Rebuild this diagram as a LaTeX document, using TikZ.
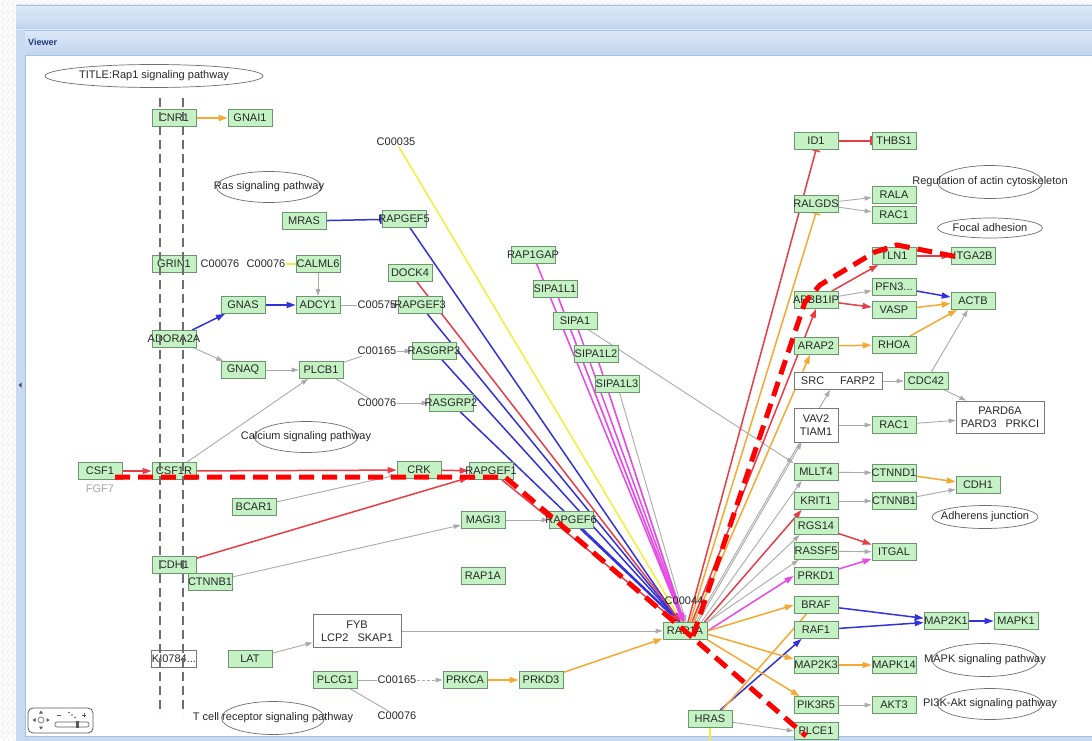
\documentclass[tikz,border=0pt]{standalone}
\usepackage{fontspec}
\setmainfont{Liberation Sans}
\usetikzlibrary{arrows.meta,shapes.geometric,calc,decorations.pathmorphing}
\definecolor{gfill}{RGB}{196,242,196}
\definecolor{gborder}{RGB}{110,150,110}
\definecolor{cor}{RGB}{245,168,50}
\definecolor{cred}{RGB}{232,60,70}
\definecolor{cblue}{RGB}{50,50,220}
\definecolor{cmag}{RGB}{235,70,235}
\definecolor{cyel}{RGB}{240,240,60}
\definecolor{cgray}{RGB}{170,170,170}
\definecolor{txt}{RGB}{40,40,40}
\definecolor{grpb}{RGB}{120,120,120}
\definecolor{pwb}{RGB}{110,110,110}
\definecolor{vd}{RGB}{110,110,110}
\definecolor{hA}{RGB}{223,234,248}
\definecolor{hB}{RGB}{201,219,242}
\definecolor{hC}{RGB}{210,225,245}
\definecolor{hD}{RGB}{188,209,238}
\definecolor{hE}{RGB}{220,232,248}
\definecolor{hF}{RGB}{194,213,239}
\definecolor{strip}{RGB}{200,218,241}
\definecolor{sline}{RGB}{169,192,224}
\definecolor{vtxt}{RGB}{30,60,120}
\newcommand\fs{\fontsize{11}{13}\selectfont}
\newcommand\gx[1]{\makebox[0pt]{#1}}
\pgfdeclarelayer{back}
\pgfdeclarelayer{edges}
\pgfdeclarelayer{front}
\pgfsetlayers{back,edges,main,front}
\tikzset{
 gene/.style={draw=gborder, fill=gfill, line width=0.7pt, minimum width=44pt, minimum height=17pt, inner sep=0pt, font=\fs, text=txt},
 grp/.style={draw=grpb, fill=white, line width=0.7pt, inner sep=2pt, font=\fs, text=txt, align=center},
 cpd/.style={inner sep=1pt, font=\fs, text=txt},
 pw/.style={ellipse, draw=pwb, line width=0.7pt, inner sep=0pt, font=\fs, text=txt},
 cw/.style={line width=1.5pt},
 tipc/.style={-{Triangle[length=9pt,width=6pt]}},
 tipg/.style={-{Triangle[length=7pt,width=4.5pt]}},
 tipb/.style={-{Bar[width=9pt]}},
 oarr/.style={draw=cor, cw, tipc},
 rarr/.style={draw=cred, cw, tipc},
 barr/.style={draw=cblue, cw, tipc},
 marr/.style={draw=cmag, cw, tipc},
 garr/.style={draw=cgray, line width=0.9pt, tipg},
 gln/.style={draw=cgray, line width=0.9pt},
 yln/.style={draw=cyel, cw},
 vdash/.style={draw=vd, line width=2.6pt, dash pattern=on 9pt off 5pt},
 hl/.style={draw=red, line width=5pt, dash pattern=on 15pt off 8pt},
}
\begin{document}
\begin{tikzpicture}[x=1pt,y=-1pt]
\useasboundingbox (0,0) rectangle (1092,741);
% ---------- window chrome ----------
\begin{pgfonlayer}{back}
\fill[white] (0,0) rectangle (1092,741);
\foreach \xx in {3,8,13}{
  \draw[gray!18, decorate, decoration={zigzag,segment length=6pt,amplitude=2pt}] (\xx,0) -- (\xx,741);}
\draw[gray!18, decorate, decoration={zigzag,segment length=6pt,amplitude=1.5pt}] (16,2.5) -- (1092,2.5);
\shade[top color=hA, bottom color=hB] (16,5) rectangle (1092,17);
\shade[top color=hC, bottom color=hD] (16,17) rectangle (1092,30);
\shade[top color=hE, bottom color=hF] (16,30) rectangle (1092,55);
\draw[sline] (16,5) -- (1092,5);
\draw[sline] (16,30) -- (1092,30);
\draw[sline] (16,55) -- (1092,55);
\fill[strip] (16,30) rectangle (25,741);
\draw[sline] (25,55) -- (25,741);
\fill[strip] (16,736) rectangle (1092,741);
\draw[sline] (25,736) -- (1092,736);
\fill[gray!60!black] (18.5,385) -- (21.5,382.5) -- (21.5,387.5) -- cycle;
\node[font=\fontsize{9}{11}\selectfont\bfseries, text=vtxt, anchor=west, inner sep=0pt] (viewer) at (28,42) {Viewer};
% navigation widget
\draw[gray!70!black, rounded corners=5pt, line width=0.8pt, fill=white] (28,708) rectangle (93,733);
\draw[gray!70!black, line width=0.6pt] (41,720) circle (3);
\fill[gray!70!black] (41,710.5) -- (39,713.5) -- (43,713.5) -- cycle;
\fill[gray!70!black] (41,729.5) -- (39,726.5) -- (43,726.5) -- cycle;
\fill[gray!70!black] (32.5,720) -- (35.5,718) -- (35.5,722) -- cycle;
\fill[gray!70!black] (49.5,720) -- (46.5,718) -- (46.5,722) -- cycle;
\draw[gray!70!black, line width=0.6pt] (57,715) -- (61,715);
\fill[gray!70!black] (69,712.5) circle (0.9) (72,715) circle (0.9) (75,717.5) circle (0.9);
\draw[gray!70!black, line width=0.6pt] (82,715) -- (86,715) (84,713) -- (84,717);
\draw[gray!70!black, line width=0.6pt, rounded corners=2pt] (55,722) rectangle (89,727);
\fill[gray!70!black] (76,721) rectangle (78.5,728);
\end{pgfonlayer}

% ---------- pathway ellipses ----------
\node[pw, minimum width=218pt, minimum height=23pt] (title) at (154,76) {\gx{TITLE:Rap1 signaling pathway}};
\node[pw, minimum width=105pt, minimum height=31pt] (ras) at (269,187) {\gx{Ras signaling pathway}};
\node[pw, minimum width=103pt, minimum height=31pt] (calc) at (306,437) {\gx{Calcium signaling pathway}};
\node[pw, minimum width=103pt, minimum height=33pt] (tcr) at (273,718) {\gx{T cell receptor signaling pathway}};
\node[pw, minimum width=105pt, minimum height=33pt] (actin) at (990,182) {\gx{Regulation of actin cytoskeleton}};
\node[pw, minimum width=105pt, minimum height=20pt] (focal) at (990,228) {\gx{Focal adhesion}};
\node[pw, minimum width=106pt, minimum height=23pt] (adh) at (985,517) {\gx{Adherens junction}};
\node[pw, minimum width=106pt, minimum height=33pt] (mapkp) at (985,660) {\gx{MAPK signaling pathway}};
\node[pw, minimum width=105pt, minimum height=31pt] (pi3k) at (990,704) {\gx{PI3K-Akt signaling pathway}};

% ---------- compounds ----------
\node[cpd] (c00035) at (396,142) {C00035};
\node[cpd] (c00076a) at (220,264) {C00076};
\node[cpd] (c00076b) at (266,264) {C00076};
\node[cpd] (c00575) at (377,305) {C00575};
\node[cpd] (c00165a) at (377,351) {C00165};
\node[cpd] (c00076c) at (377,403) {C00076};
\node[cpd] (c00165b) at (397,680) {C00165};
\node[cpd] (c00076d) at (397,716) {C00076};
\node[cpd] (c00044) at (684,601) {C00044};
\node[cpd, text=gray!70] (fgf7) at (100,489) {FGF7};

% ---------- genes left ----------
\node[gene] (cnr1) at (174,118) {\gx{CNR1}};
\node[gene] (gnai1) at (250,118) {\gx{GNAI1}};
\node[gene] (mras) at (304,221) {\gx{MRAS}};
\node[gene] (rapgef5) at (404,219) {\gx{RAPGEF5}};
\node[gene] (grin1) at (174,264) {\gx{GRIN1}};
\node[gene] (calml6) at (318,264) {\gx{CALML6}};
\node[gene] (gnas) at (243,305) {\gx{GNAS}};
\node[gene] (adcy1) at (318,305) {\gx{ADCY1}};
\node[gene] (rapgef3) at (420,305) {\gx{RAPGEF3}};
\node[gene] (dock4) at (410,273) {\gx{DOCK4}};
\node[gene] (adora2a) at (174,339) {\gx{ADORA2A}};
\node[gene] (gnaq) at (243,370) {\gx{GNAQ}};
\node[gene] (plcb1) at (321,370) {\gx{PLCB1}};
\node[gene] (rasgrp3) at (434,351) {\gx{RASGRP3}};
\node[gene] (rasgrp2) at (451,403) {\gx{RASGRP2}};
\node[gene] (rap1gap) at (533,255) {\gx{RAP1GAP}};
\node[gene] (sipa1l1) at (555,289) {\gx{SIPA1L1}};
\node[gene] (sipa1) at (575,321) {\gx{SIPA1}};
\node[gene] (sipa1l2) at (596,354) {\gx{SIPA1L2}};
\node[gene] (sipa1l3) at (617,384) {\gx{SIPA1L3}};
\node[gene] (csf1) at (100,471) {\gx{CSF1}};
\node[gene] (csf1r) at (174,471) {\gx{CSF1R}};
\node[gene] (crk) at (419,470) {\gx{CRK}};
\node[gene] (rapgef1) at (491,471) {\gx{RAPGEF1}};
\node[gene] (bcar1) at (254,507) {\gx{BCAR1}};
\node[gene] (cdh1a) at (174,565) {\gx{CDH1}};
\node[gene] (ctnnb1a) at (210,582) {\gx{CTNNB1}};
\node[gene] (magi3) at (483,520) {\gx{MAGI3}};
\node[gene] (rapgef6) at (571,520) {\gx{RAPGEF6}};
\node[gene] (rap1alone) at (483,576) {\gx{RAP1A}};
\node[gene] (lat) at (250,659) {\gx{LAT}};
\node[gene] (plcg1) at (335,680) {\gx{PLCG1}};
\node[gene] (prkca) at (465,680) {\gx{PRKCA}};
\node[gene] (prkd3) at (541,680) {\gx{PRKD3}};
\node[gene] (hub) at (685,631) {\gx{RAP1A}};
\node[gene] (hras) at (710,719) {\gx{HRAS}};
\node[grp, minimum width=88pt, minimum height=33pt] (fyb) at (357,631) {FYB\\LCP2\hspace{9pt}SKAP1};
\node[grp, minimum width=45pt, minimum height=17pt, inner sep=0pt] (ki0784) at (174,659) {\gx{KI0784...}};

% ---------- genes right ----------
\node[gene] (id1) at (816,141) {\gx{ID1}};
\node[gene] (thbs1) at (894,141) {\gx{THBS1}};
\node[gene] (ralgds) at (816,204) {\gx{RALGDS}};
\node[gene] (rala) at (894,195) {\gx{RALA}};
\node[gene] (rac1a) at (894,215) {\gx{RAC1}};
\node[gene] (tln1) at (894,256) {\gx{TLN1}};
\node[gene] (itga2b) at (973,256) {\gx{ITGA2B}};
\node[gene] (pfn3) at (894,287) {\gx{PFN3...}};
\node[gene] (actb) at (973,301) {\gx{ACTB}};
\node[gene] (apbb1ip) at (816,300) {\gx{APBB1IP}};
\node[gene] (vasp) at (894,310) {\gx{VASP}};
\node[gene] (arap2) at (816,346) {\gx{ARAP2}};
\node[gene] (rhoa) at (894,345) {\gx{RHOA}};
\node[grp, minimum width=88pt, minimum height=17pt, inner sep=0pt] (src) at (838,381) {SRC\hspace{16pt}FARP2};
\node[gene] (cdc42) at (926,381) {\gx{CDC42}};
\node[grp, minimum width=44pt, minimum height=34pt] (vav2) at (816,425) {VAV2\\TIAM1};
\node[gene] (rac1b) at (894,425) {\gx{RAC1}};
\node[grp, minimum width=88pt, minimum height=32pt] (pard) at (1000,417) {PARD6A\\PARD3\hspace{9pt}PRKCI};
\node[gene] (mllt4) at (816,472) {\gx{MLLT4}};
\node[gene] (ctnnd1) at (894,473) {\gx{CTNND1}};
\node[gene] (cdh1b) at (978,485) {\gx{CDH1}};
\node[gene] (krit1) at (816,501) {\gx{KRIT1}};
\node[gene] (ctnnb1b) at (894,501) {\gx{CTNNB1}};
\node[gene] (rgs14) at (816,526) {\gx{RGS14}};
\node[gene] (rassf5) at (816,551) {\gx{RASSF5}};
\node[gene] (itgal) at (894,552) {\gx{ITGAL}};
\node[gene] (prkd1) at (816,576) {\gx{PRKD1}};
\node[gene] (braf) at (816,605) {\gx{BRAF}};
\node[gene] (raf1) at (816,630) {\gx{RAF1}};
\node[gene] (map2k1) at (946,621) {\gx{MAP2K1}};
\node[gene] (mapk1) at (1016,621) {\gx{MAPK1}};
\node[gene] (map2k3) at (816,665) {\gx{MAP2K3}};
\node[gene] (mapk14) at (894,665) {\gx{MAPK14}};
\node[gene] (pik3r5) at (816,705) {\gx{PIK3R5}};
\node[gene] (akt3) at (894,705) {\gx{AKT3}};
\node[gene] (plce1) at (816,731) {\gx{PLCE1}};

\coordinate (yend) at (710,741);
\coordinate (d1t) at (160,98);
\coordinate (d1b) at (160,714);
\coordinate (d2t) at (183,98);
\coordinate (d2b) at (183,714);
\coordinate (h1) at (115,477);
\coordinate (h2) at (505,477);
\coordinate (h3) at (806,736);
\coordinate (h4) at (693,636);
\coordinate (h5) at (805,302);
\coordinate (h6) at (820,285);
\coordinate (h7) at (875,252);
\coordinate (h8) at (897,245);
\coordinate (h9) at (958,257);

% ---------- edges ----------
\begin{pgfonlayer}{edges}
% gray
\draw[garr] (calml6) -- (adcy1);
\draw[gln] (adcy1) -- (c00575);
\draw[garr] (c00575) -- (rapgef3);
\draw[garr] (adora2a) -- (gnaq);
\draw[garr] (gnaq) -- (plcb1);
\draw[gln] (plcb1) -- (c00165a);
\draw[garr] (c00165a) -- (rasgrp3);
\draw[gln] (plcb1) -- (c00076c);
\draw[garr] (c00076c) -- (rasgrp2);
\draw[garr] (csf1r) -- (plcb1);
\draw[garr] (bcar1) -- (crk);
\draw[garr] (ctnnb1a) -- (magi3);
\draw[garr] (magi3) -- (rapgef6);
\draw[garr] (lat) -- (fyb);
\draw[garr] (fyb) -- (hub);
\draw[gln] (plcg1) -- (c00165b);
\draw[garr, dash pattern=on 3pt off 2pt] (c00165b) -- (prkca);
\draw[gln] (plcg1) -- (c00076d);
\draw[garr] (sipa1l1) -- ([xshift=-1pt]hub.north);
\draw[garr] (sipa1l2) -- ([xshift=0pt]hub.north);
\draw[garr] (sipa1l3) -- ([xshift=1pt]hub.north);
\draw[garr] (sipa1) -- (mllt4.north west);
\draw[garr] (ralgds) -- (rala);
\draw[garr] (ralgds) -- (rac1a);
\draw[garr] (apbb1ip) -- (pfn3);
\draw[garr] ([xshift=11pt]hub.north) -- ([xshift=-8pt]src.south);
\draw[garr] ([xshift=13pt]hub.north) -- ([xshift=8pt]vav2.south west);
\draw[garr] (src) -- (cdc42);
\draw[garr] (cdc42) -- (actb);
\draw[garr] (cdc42) -- (pard);
\draw[garr] (vav2) -- (rac1b);
\draw[garr] (rac1b) -- (pard);
\draw[garr] ([xshift=-6pt]hub.north east) -- ([xshift=8pt]mllt4.south west);
\draw[garr] (mllt4) -- (ctnnd1);
\draw[garr] (krit1) -- (ctnnb1b);
\draw[garr] (ctnnb1b) -- (cdh1b);
\draw[garr] (hub.north east) -- ([xshift=6pt]rgs14.south west);
\draw[garr] (hub.north east) -- ([xshift=5pt]rassf5.south west);
\draw[garr] (rassf5) -- (itgal);
\draw[garr] (pik3r5) -- (akt3);
\draw[garr] (hras) -- (plce1.west);
% yellow
\draw[yln] (c00076b) -- (calml6);
\draw[yln] (c00035) -- ([xshift=-3pt]hub.north);
\draw[yln] (hras) -- (yend);
% blue
\draw[barr, -{Bar[width=9pt]}] (mras) -- (rapgef5);
\draw[barr] (rapgef5) -- ([xshift=-5pt]hub.north);
\draw[barr] (rapgef3) -- ([xshift=-5pt]hub.north);
\draw[barr] (rasgrp3) -- ([xshift=-5pt]hub.north);
\draw[barr] (rasgrp2) -- ([xshift=-5pt]hub.north);
\draw[barr] (rapgef6) -- ([xshift=-6pt]hub.north);
\draw[barr] (adora2a) -- (gnas);
\draw[barr] (gnas) -- (adcy1);
\draw[barr] (pfn3) -- (actb);
\draw[barr] (braf) -- (map2k1);
\draw[barr] (raf1) -- (map2k1);
\draw[barr] (map2k1) -- (mapk1);
\draw[barr] (hras) -- ([xshift=8pt]raf1.south west);
% red
\draw[rarr] (dock4) -- ([xshift=-4pt]hub.north);
\draw[rarr] (rapgef1) -- ([xshift=-8pt]hub.north);
\draw[rarr] (csf1) -- (csf1r);
\draw[rarr] (csf1r) -- (crk);
\draw[rarr] (crk) -- (rapgef1);
\draw[rarr] (cdh1a) -- (rapgef1);
\draw[rarr, -{Bar[width=9pt]}] ([xshift=3pt]hub.north) -- (id1.south);
\draw[rarr, -{Bar[width=9pt]}] (id1) -- (thbs1);
\draw[rarr] ([xshift=7pt]hub.north) -- (apbb1ip.south);
\draw[rarr] (apbb1ip) -- (tln1);
\draw[rarr] (apbb1ip) -- (vasp);
\draw[rarr] (tln1) -- (itga2b);
\draw[rarr] ([xshift=-3pt]hub.north east) -- ([xshift=8pt]krit1.south west);
\draw[rarr] (rgs14) -- (itgal);
% magenta
\draw[marr] (rap1gap) -- ([xshift=-2pt]hub.north);
\draw[marr] (sipa1l1) -- ([xshift=-2pt]hub.north);
\draw[marr] (sipa1) -- ([xshift=-1pt]hub.north);
\draw[marr] (sipa1l2) -- ([xshift=-1pt]hub.north);
\draw[marr] (hub.east) -- (prkd1.west);
\draw[marr] (prkd1) -- (itgal);
% orange
\draw[oarr] (cnr1) -- (gnai1);
\draw[oarr] (prkca) -- (prkd3);
\draw[oarr] (prkd3) -- (hub);
\draw[oarr, -{Bar[width=9pt]}] ([xshift=5pt]hub.north) -- (ralgds.south);
\draw[oarr] ([xshift=9pt]hub.north) -- ([xshift=-6pt]arap2.south);
\draw[oarr] (arap2) -- (rhoa);
\draw[oarr] (rhoa) -- (actb);
\draw[oarr] (vasp) -- (actb);
\draw[oarr] (ctnnd1) -- (cdh1b);
\draw[oarr] (hub.east) -- (braf.west);
\draw[oarr] ([yshift=-3pt]hub.east) -- ([yshift=-3pt]map2k3.north west);
\draw[oarr] (hub.south east) -- ([xshift=6pt]pik3r5.north west);
\draw[oarr] (map2k3) -- (mapk14);
\draw[draw=cor, cw] ([xshift=12pt]hras.north) -- ([xshift=13pt]braf.south west);
\end{pgfonlayer}

% ---------- overlays ----------
\begin{pgfonlayer}{front}
\draw[vdash] (d1t) -- (d1b);
\draw[vdash] (d2t) -- (d2b);
\draw[hl] (h1) -- (h2) -- (hub.center) -- (h3);
\draw[hl] (h4) -- (h5) -- (h6) -- (h7) -- (h8) -- (h9);
\end{pgfonlayer}
\end{tikzpicture}
\end{document}
